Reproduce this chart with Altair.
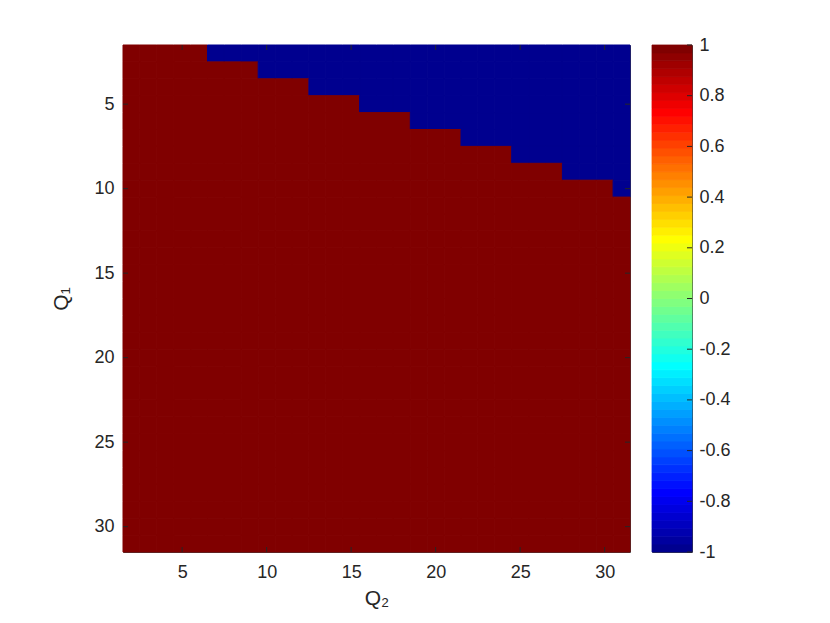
import altair as alt
import pandas as pd

# ---- data ----
q1_values = list(range(2, 32))          # rows (y axis, top -> bottom)
q2_values = list(range(2, 32))          # columns (x axis)
blue_rows = [2, 3, 4, 5, 6, 7, 8, 9, 10]  # Q1 rows that contain -1 cells
blue_start = [7, 10, 13, 16, 19, 22, 25, 28, 31]  # first Q2 with value -1 in that row
tick_values = [5, 10, 15, 20, 25, 30]
cbar_ticks = [-1, -0.8, -0.6, -0.4, -0.2, 0, 0.2, 0.4, 0.6, 0.8, 1]
n_colors = 64

# ---- jet colormap (MATLAB, 64 levels) ----
def clip(v):
    return max(0.0, min(1.0, v))

jet = []
for k in range(1, n_colors + 1):
    r = clip(min((k - 24) / 16, (72 - k) / 16))
    g = clip(min((k - 8) / 16, (56 - k) / 16))
    b = clip(min((k + 8) / 16, (40 - k) / 16))
    jet.append("#%02x%02x%02x" % (round(r * 255), round(g * 255), round(b * 255)))

start_map = dict(zip(blue_rows, blue_start))
rows = []
for q1 in q1_values:
    for q2 in q2_values:
        v = -1 if (q1 in start_map and q2 >= start_map[q1]) else 1
        rows.append({"q1": q1, "q2": q2, "v": v})
df = pd.DataFrame(rows)

cb = pd.DataFrame({
    "lo": [-1 + i * 2 / n_colors for i in range(n_colors)],
    "hi": [-1 + (i + 1) * 2 / n_colors for i in range(n_colors)],
    "c": jet,
})
ticks_df = pd.DataFrame({"t": tick_values})
cticks_df = pd.DataFrame({"t": cbar_ticks})

W, H = 507, 507
CW = 40
TL = 5
TC = "#262626"

xs = alt.Scale(domain=[1.5, 31.5], nice=False, zero=False)
ys = alt.Scale(domain=[1.5, 31.5], nice=False, zero=False, reverse=True)
cs = alt.Scale(domain=[-1, 1], range=jet)

ax_x = alt.Axis(values=tick_values, title="Q₂", ticks=False, domain=False,
                labelPadding=11, titlePadding=6, labelFlush=False)
ax_y = alt.Axis(values=tick_values, title="Q₁", ticks=False, domain=False,
                labelPadding=9, titlePadding=22, labelFlush=False)

heat = alt.Chart(df).transform_calculate(
    x1="datum.q2 - 0.5", x2="datum.q2 + 0.5",
    y1="datum.q1 - 0.5", y2="datum.q1 + 0.5",
).mark_rect(strokeWidth=1).encode(
    x=alt.X("x1:Q", scale=xs, axis=ax_x),
    x2="x2:Q",
    y=alt.Y("y1:Q", scale=ys, axis=ax_y),
    y2="y2:Q",
    fill=alt.Fill("v:Q", scale=cs, legend=None),
    stroke=alt.Stroke("v:Q", scale=cs, legend=None),
)

tb = alt.Chart(ticks_df).mark_rule(color=TC).encode(
    x=alt.X("t:Q", scale=xs, axis=ax_x), y=alt.value(H), y2=alt.value(H - TL))
tt = alt.Chart(ticks_df).mark_rule(color=TC).encode(
    x=alt.X("t:Q", scale=xs, axis=ax_x), y=alt.value(0), y2=alt.value(TL))
tl = alt.Chart(ticks_df).mark_rule(color=TC).encode(
    y=alt.Y("t:Q", scale=ys, axis=ax_y), x=alt.value(0), x2=alt.value(TL))
tr = alt.Chart(ticks_df).mark_rule(color=TC).encode(
    y=alt.Y("t:Q", scale=ys, axis=ax_y), x=alt.value(W), x2=alt.value(W - TL))

main = alt.layer(heat, tb, tt, tl, tr).properties(width=W, height=H)

cys = alt.Scale(domain=[-1, 1], nice=False, zero=False)
ax_c = alt.Axis(orient="right", values=cbar_ticks, title=None, ticks=False,
                domain=False, labelPadding=7, labelFlush=False,
                labelExpr="datum.value < 0 ? '-' + format(-datum.value, '~g') : format(datum.value, '~g')")

cbar = alt.Chart(cb).mark_rect(strokeWidth=0.8).encode(
    y=alt.Y("lo:Q", scale=cys, axis=ax_c),
    y2="hi:Q",
    fill=alt.Fill("c:N", scale=None),
    stroke=alt.Stroke("c:N", scale=None),
)
cb_ticks = alt.Chart(cticks_df).mark_rule(color=TC).encode(
    y=alt.Y("t:Q", scale=cys, axis=ax_c), x=alt.value(CW), x2=alt.value(CW - TL))
colorbar = alt.layer(cbar, cb_ticks).properties(width=CW, height=H)

chart = alt.hconcat(main, colorbar, spacing=20).properties(
    padding={"left": 42, "top": 27, "right": 5, "bottom": 5},
    background="white",
).configure_view(
    stroke="#404040", strokeWidth=1
).configure_axis(
    grid=False,
    labelFont="Liberation Sans", labelFontSize=18, labelColor=TC,
    titleFont="Liberation Sans", titleFontSize=21, titleFontWeight="normal",
    titleColor=TC,
)

chart.save("out.html", embed_options={"renderer": "svg", "actions": False})
